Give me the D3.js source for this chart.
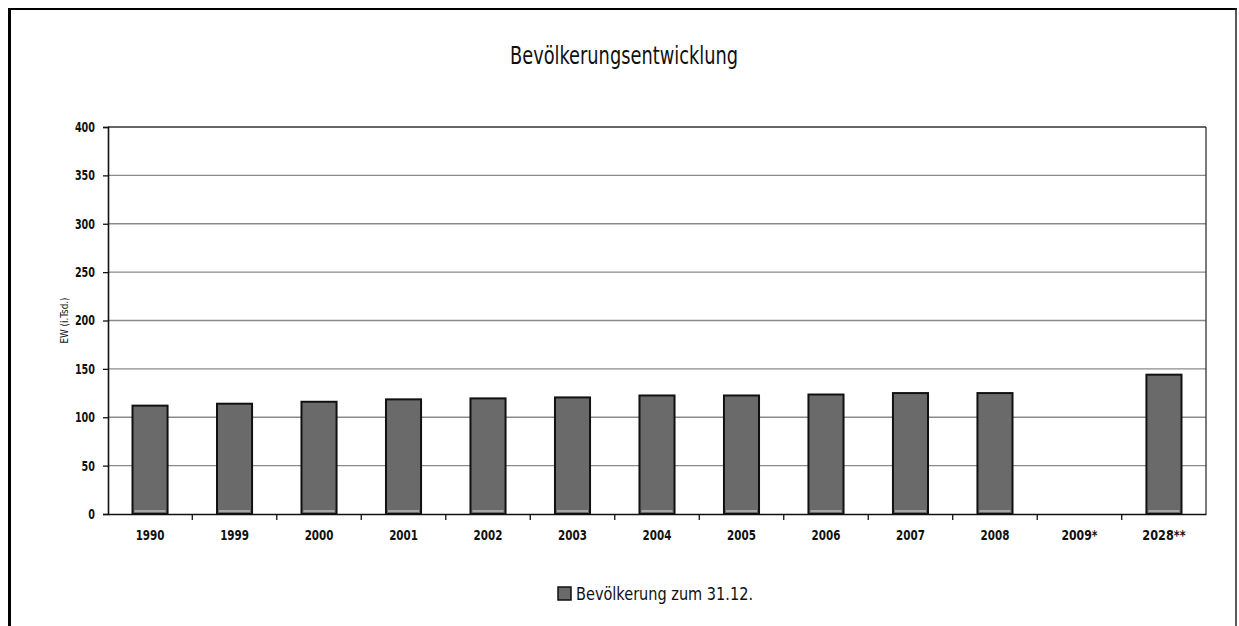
<!DOCTYPE html>
<html>
<head>
<meta charset="utf-8">
<script src="https://cdn.jsdelivr.net/npm/d3@7"></script>
<style>
  html, body { margin: 0; padding: 0; background: #fff; }
  svg { display: block; }
  text { font-family: "DejaVu Sans Condensed", "DejaVu Sans", sans-serif; font-stretch: condensed; fill: #111; }
</style>
</head>
<body>
<svg id="chart" width="1239" height="626"></svg>
<script>
const categories = ["1990", "1999", "2000", "2001", "2002", "2003", "2004", "2005", "2006", "2007", "2008", "2009*", "2028**"];
const population = [112, 114, 116, 118.5, 119.5, 120.5, 122.5, 122.5, 123.5, 125, 125, null, 144];
const yTicks = [0, 50, 100, 150, 200, 250, 300, 350, 400];
const chartTitle = "Bevölkerungsentwicklung";
const yTitle = "EW (i.Tsd.)";
const seriesName = "Bevölkerung zum 31.12.";

const svg = d3.select("#chart");
const W = 1239, H = 626;
const m = { left: 108, right: 1206, top: 127, bottom: 514 };

// outer frame
svg.append("line").attr("x1", 9.5).attr("x2", 9.5).attr("y1", 8).attr("y2", H).attr("stroke", "#000").attr("stroke-width", 3);
svg.append("line").attr("x1", 8).attr("x2", 1237).attr("y1", 9).attr("y2", 9).attr("stroke", "#000").attr("stroke-width", 2);
svg.append("line").attr("x1", 1236).attr("x2", 1236).attr("y1", 8).attr("y2", H).attr("stroke", "#222").attr("stroke-width", 1.5);

const x = d3.scaleBand().domain(categories).range([m.left, m.right]).paddingInner(0.585).paddingOuter(0.29);
const y = d3.scaleLinear().domain([0, 400]).range([m.bottom, m.top]);

// gridlines
svg.append("g").selectAll("line").data(yTicks.filter(t => t > 0 && t < 400)).join("line")
  .attr("x1", m.left).attr("x2", m.right)
  .attr("y1", d => y(d)).attr("y2", d => y(d))
  .attr("stroke", "#8a8a8a").attr("stroke-width", 1.3);

// plot border top/right
svg.append("line").attr("x1", m.left).attr("x2", m.right).attr("y1", y(400)).attr("y2", y(400)).attr("stroke", "#333").attr("stroke-width", 1.3);
svg.append("line").attr("x1", m.right).attr("x2", m.right).attr("y1", y(400)).attr("y2", m.bottom).attr("stroke", "#333").attr("stroke-width", 1.3);

// bars
const bars = svg.append("g");
categories.forEach((c, i) => {
  const v = population[i];
  if (v == null) return;
  bars.append("rect")
    .attr("x", x(c)).attr("y", y(v))
    .attr("width", x.bandwidth()).attr("height", y(0) - y(v))
    .attr("fill", "#6a6a6a").attr("stroke", "#111").attr("stroke-width", 2);
  bars.append("line")
    .attr("x1", x(c) + 2).attr("x2", x(c) + x.bandwidth() - 2)
    .attr("y1", y(0) - 3).attr("y2", y(0) - 3)
    .attr("stroke", "#bdbdbd").attr("stroke-width", 1.5);
});

// y axis
const yAxis = svg.append("g").attr("transform", `translate(${m.left},0)`)
  .call(d3.axisLeft(y).tickValues(yTicks).tickSize(5).tickPadding(8));
yAxis.select(".domain").attr("stroke", "#111").attr("stroke-width", 1.6);
yAxis.selectAll(".tick line").attr("stroke", "#111").attr("stroke-width", 1.3);
yAxis.selectAll(".tick text").attr("font-size", 14).attr("font-weight", "bold").attr("fill", "#111")
  .each(function(d) { d3.select(this).attr("textLength", String(d).length * 6.7).attr("lengthAdjust", "spacingAndGlyphs"); });

// x axis
const xAxis = svg.append("g").attr("transform", `translate(0,${m.bottom})`)
  .call(d3.axisBottom(x).tickSize(0).tickPadding(16));
xAxis.select(".domain").attr("stroke", "#111").attr("stroke-width", 1.6);
xAxis.selectAll(".tick text").attr("font-size", 14).attr("font-weight", "bold").attr("fill", "#111")
  .each(function(d) { d3.select(this).attr("textLength", d.length * 7.2).attr("lengthAdjust", "spacingAndGlyphs"); });
// tick marks between categories
const step = x.step();
const seps = categories.slice(1).map(c => x(c) - (step - x.bandwidth()) / 2);
xAxis.append("g").selectAll("line").data(seps).join("line")
  .attr("x1", d => d).attr("x2", d => d).attr("y1", 0).attr("y2", 6)
  .attr("stroke", "#111").attr("stroke-width", 1.3);

// title
svg.append("text").attr("x", 624).attr("y", 64).attr("text-anchor", "middle")
  .attr("font-size", 24).attr("textLength", 228).attr("lengthAdjust", "spacingAndGlyphs").text(chartTitle);

// y title
svg.append("text").attr("transform", `translate(68,${(m.top + m.bottom) / 2}) rotate(-90)`)
  .attr("text-anchor", "middle").attr("font-size", 11).attr("textLength", 46).attr("lengthAdjust", "spacingAndGlyphs").text(yTitle);

// legend
svg.append("rect").attr("x", 558).attr("y", 587).attr("width", 13).attr("height", 13)
  .attr("fill", "#6a6a6a").attr("stroke", "#111").attr("stroke-width", 1.5);
svg.append("text").attr("x", 576).attr("y", 600).attr("font-size", 18)
  .attr("textLength", 177).attr("lengthAdjust", "spacingAndGlyphs").text(seriesName);
</script>
</body>
</html>
